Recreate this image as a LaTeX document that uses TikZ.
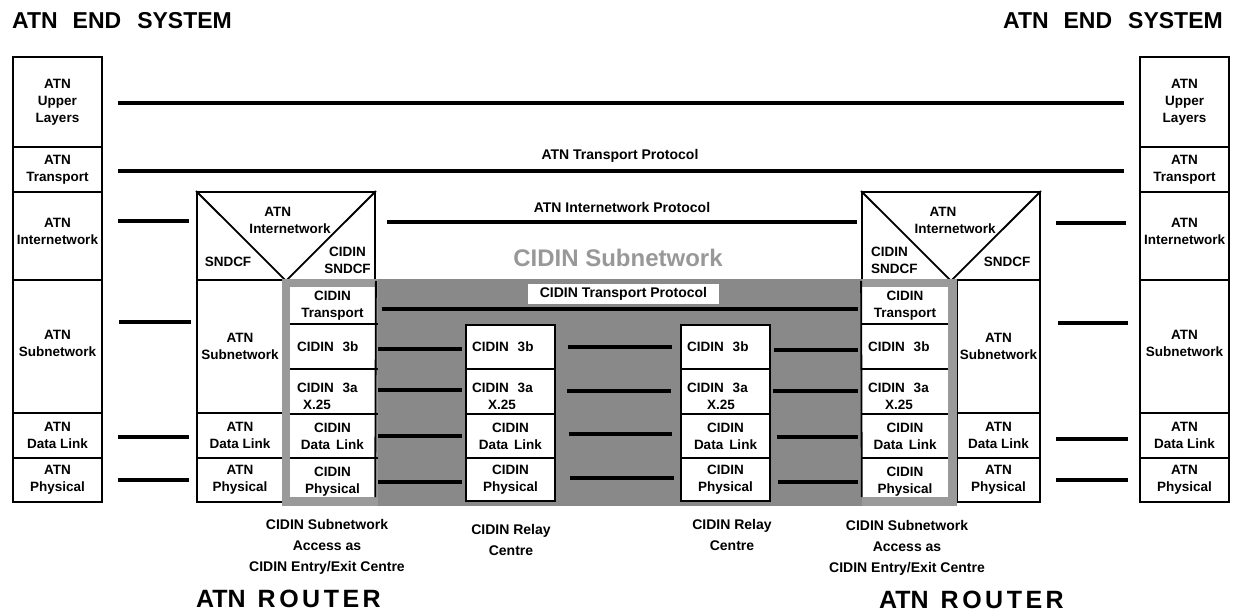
\documentclass[tikz,border=0pt]{standalone}
\usepackage{fontspec}
\setmainfont{Liberation Sans}
\definecolor{dgray}{RGB}{137,137,137}
\definecolor{lgray}{RGB}{154,154,154}
\definecolor{tgray}{RGB}{152,152,152}
\newcommand\boxfont{\fontsize{13.5}{17}\selectfont\bfseries}
\newcommand\protofont{\fontsize{14}{17}\selectfont\bfseries}
\newcommand\capfont{\fontsize{14}{21}\selectfont\bfseries}
\tikzset{
  bx/.style={draw=black, line width=1.8pt, fill=white, inner sep=0pt, align=center, font=\boxfont},
  wb/.style={draw=none, fill=white, inner sep=0pt, align=center, font=\boxfont},
  lb/.style={font=\boxfont, align=center, inner sep=0pt},
  dl/.style={line width=1.8pt, black},
  proto/.style={line width=4pt, black},
  pf/.style={font=\protofont, inner sep=0pt},
  cf/.style={font=\capfont, align=center, inner sep=0pt},
}
\begin{document}
\begin{tikzpicture}[x=1pt,y=-1pt]
\useasboundingbox (0,0) rectangle (1234,614);
% ---------- left end system
\node[bx, minimum width=89pt, minimum height=90pt] (eLU) at (57.5,102) {ATN\\Upper\\Layers};
\node[bx, minimum width=89pt, minimum height=45pt] (eLT) at (57.5,169.5) {ATN\\Transport};
\node[bx, minimum width=89pt, minimum height=88pt, label={[lb,yshift=5pt]center:ATN\\Internetwork}] (eLI) at (57.5,236) {};
\node[bx, minimum width=89pt, minimum height=133pt, label={[lb,yshift=3pt]center:ATN\\Subnetwork}] (eLS) at (57.5,346.5) {};
\node[bx, minimum width=89pt, minimum height=45pt] (eLD) at (57.5,435.5) {ATN\\Data Link};
\node[bx, minimum width=89pt, minimum height=44pt] (eLP) at (57.5,480) {ATN\\Physical};
% ---------- right end system
\node[bx, minimum width=89pt, minimum height=90pt] (eRU) at (1184.5,102) {ATN\\Upper\\Layers};
\node[bx, minimum width=89pt, minimum height=45pt] (eRT) at (1184.5,169.5) {ATN\\Transport};
\node[bx, minimum width=89pt, minimum height=88pt, label={[lb,yshift=5pt]center:ATN\\Internetwork}] (eRI) at (1184.5,236) {};
\node[bx, minimum width=89pt, minimum height=133pt, label={[lb,yshift=3pt]center:ATN\\Subnetwork}] (eRS) at (1184.5,346.5) {};
\node[bx, minimum width=89pt, minimum height=45pt] (eRD) at (1184.5,435.5) {ATN\\Data Link};
\node[bx, minimum width=89pt, minimum height=44pt] (eRP) at (1184.5,480) {ATN\\Physical};
% ---------- left router
\node[bx, minimum width=178pt, minimum height=88pt] (rLtop) at (286,236) {};
\node[bx, minimum width=86pt, minimum height=133pt] (rLS) at (240,346.5) {ATN\\Subnetwork};
\node[bx, minimum width=86pt, minimum height=45pt] (rLD) at (240,435.5) {ATN\\Data Link};
\node[bx, minimum width=86pt, minimum height=44pt] (rLP) at (240,480) {ATN\\Physical};
% ---------- right router
\node[bx, minimum width=178pt, minimum height=88pt] (rRtop) at (951,236) {};
\node[bx, minimum width=83pt, minimum height=133pt] (rRS) at (998.5,346.5) {ATN\\Subnetwork};
\node[bx, minimum width=83pt, minimum height=45pt] (rRD) at (998.5,435.5) {ATN\\Data Link};
\node[bx, minimum width=83pt, minimum height=44pt] (rRP) at (998.5,480) {ATN\\Physical};
% diagonals and router texts
\draw[dl] (rLtop.north west) -- (rLtop.south);
\draw[dl] (rLtop.north east) -- (rLtop.south);
\draw[dl] (rRtop.north west) -- (rRtop.south);
\draw[dl] (rRtop.north east) -- (rRtop.south);
\node[lb, align=left] (tLI) at (290,220) {\hspace*{15pt}ATN\\Internetwork};
\node[lb] (tLS) at (228,262) {SNDCF};
\node[lb] (tLC) at (347.5,260.5) {CIDIN\\SNDCF};
\node[lb, align=left] (tRI) at (955,220) {\hspace*{15pt}ATN\\Internetwork};
\node[lb, align=left, anchor=west] (tRC) at (871,260.5) {CIDIN\\SNDCF};
\node[lb] (tRS) at (1007,262) {SNDCF};
% ---------- CIDIN subnetwork grey area
\fill[dgray] (282,279) rectangle (957,506);
\fill[lgray] (282,279) rectangle (378,506);
\fill[lgray] (862,279) rectangle (957,506);
% left CIDIN column
\node[wb, minimum width=85pt, minimum height=37pt] (cLT) at (332.5,305.5) {CIDIN\\Transport};
\node[wb, minimum width=85pt, minimum height=45pt, text width=71pt, align=left] (cL3b) at (332.5,346.5) {CIDIN\hspace{9pt}3b};
\node[wb, minimum width=85pt, minimum height=45pt, label={[lb,text width=71pt,align=left,yshift=-5pt]center:CIDIN\hspace{9pt}3a\\\hspace*{6pt}X.25}] (cL3a) at (332.5,391.5) {};
\node[wb, minimum width=85pt, minimum height=44pt] (cLD) at (332.5,436) {CIDIN\\Data\hspace{6pt}Link};
\node[wb, minimum width=85pt, minimum height=39pt, label={[lb,yshift=-4pt]center:CIDIN\\Physical}] (cLP) at (332.5,477.5) {};
\foreach \n in {cLT,cL3b,cL3a,cLD} \draw[dl] (\n.south west) -- ([xshift=3pt]\n.south east);
\draw[dl] (rLtop.south east) -- (cLP.south east);
% right CIDIN column
\node[wb, minimum width=86pt, minimum height=37pt] (cRT) at (905,305.5) {CIDIN\\Transport};
\node[wb, minimum width=86pt, minimum height=45pt, text width=74pt, align=left] (cR3b) at (905,346.5) {CIDIN\hspace{9pt}3b};
\node[wb, minimum width=86pt, minimum height=45pt, label={[lb,text width=74pt,align=left,yshift=-5pt]center:CIDIN\hspace{9pt}3a\\\hspace*{17pt}X.25}] (cR3a) at (905,391.5) {};
\node[wb, minimum width=86pt, minimum height=44pt] (cRD) at (905,436) {CIDIN\\Data\hspace{6pt}Link};
\node[wb, minimum width=86pt, minimum height=39pt, label={[lb,yshift=-4pt]center:CIDIN\\Physical}] (cRP) at (905,477.5) {};
\foreach \n in {cRT,cR3b,cR3a,cRD} \draw[dl] (\n.south west) -- (\n.south east);
\draw[dl] (rRtop.south west) -- (cRP.south west);
% relay centres
\node[bx, minimum width=89pt, minimum height=44pt, text width=77pt, align=left] (r1b) at (510.5,347) {CIDIN\hspace{9pt}3b};
\node[bx, minimum width=89pt, minimum height=45pt, label={[lb,text width=77pt,align=left,yshift=-5pt]center:CIDIN\hspace{9pt}3a\\\hspace*{16pt}X.25}] (r1a) at (510.5,391.5) {};
\node[bx, minimum width=89pt, minimum height=44pt] (r1d) at (510.5,436) {CIDIN\\Data\hspace{6pt}Link};
\node[bx, minimum width=89pt, minimum height=43pt] (r1p) at (510.5,479.5) {CIDIN\\Physical};
\node[bx, minimum width=89pt, minimum height=44pt, text width=77pt, align=left] (r2b) at (725.5,347) {CIDIN\hspace{9pt}3b};
\node[bx, minimum width=89pt, minimum height=45pt, label={[lb,text width=77pt,align=left,yshift=-5pt]center:CIDIN\hspace{9pt}3a\\\hspace*{20pt}X.25}] (r2a) at (725.5,391.5) {};
\node[bx, minimum width=89pt, minimum height=44pt] (r2d) at (725.5,436) {CIDIN\\Data\hspace{6pt}Link};
\node[bx, minimum width=89pt, minimum height=43pt] (r2p) at (725.5,479.5) {CIDIN\\Physical};
% ---------- peer protocol lines (ATN)
\draw[proto] ([xshift=15pt,yshift=-1pt]eLU.east) -- ([xshift=-15pt,yshift=-1pt]eRU.west);
\draw[proto] ([xshift=15pt,yshift=-1.5pt]eLT.east) -- ([xshift=-15pt,yshift=-1.5pt]eRT.west);
\draw[proto] ([xshift=15pt,yshift=15pt]eLI.east) -- ([xshift=-7pt,yshift=15pt]rLtop.west);
\draw[proto] ([xshift=11pt,yshift=14pt]rLtop.east) -- ([xshift=-4pt,yshift=14pt]rRtop.west);
\draw[proto] ([xshift=15pt,yshift=13pt]rRtop.east) -- ([xshift=-13pt,yshift=13pt]eRI.west);
\draw[proto] ([xshift=16pt,yshift=24.5pt]eLS.east) -- ([xshift=-5pt,yshift=24.5pt]rLS.west);
\draw[proto] ([xshift=17pt,yshift=23.5pt]rRS.east) -- ([xshift=-11pt,yshift=23.5pt]eRS.west);
\draw[proto] ([xshift=15pt,yshift=-1.5pt]eLD.east) -- ([xshift=-7pt,yshift=-1.5pt]rLD.west);
\draw[proto] ([xshift=15pt,yshift=-3.5pt]rRD.east) -- ([xshift=-11pt,yshift=-3.5pt]eRD.west);
\draw[proto] ([xshift=15pt]eLP.east) -- ([xshift=-7pt]rLP.west);
\draw[proto] ([xshift=15pt]rRP.east) -- ([xshift=-11pt]eRP.west);
% ---------- CIDIN peer lines
\draw[proto] ([xshift=7pt,yshift=-3.5pt]cLT.east) -- ([xshift=-4pt,yshift=-3.5pt]cRT.west);
\draw[proto] ([xshift=3pt,yshift=-2.5pt]cL3b.east) -- ([xshift=-3pt,yshift=-2pt]r1b.west);
\draw[proto] ([xshift=12pt]r1b.east) -- ([xshift=-8pt]r2b.west);
\draw[proto] ([xshift=3pt,yshift=-3pt]r2b.east) -- ([xshift=-4pt,yshift=-3.5pt]cR3b.west);
\draw[proto] ([xshift=3pt,yshift=1.5pt]cL3a.east) -- ([xshift=-3pt,yshift=1.5pt]r1a.west);
\draw[proto] ([xshift=11pt,yshift=0.5pt]r1a.east) -- ([xshift=-9pt,yshift=0.5pt]r2a.west);
\draw[proto] ([xshift=2pt,yshift=0.5pt]r2a.east) -- ([xshift=-4pt,yshift=0.5pt]cR3a.west);
\draw[proto] ([xshift=3pt]cLD.east) -- ([xshift=-3pt]r1d.west);
\draw[proto] ([xshift=13pt,yshift=2pt]r1d.east) -- ([xshift=-8pt,yshift=2pt]r2d.west);
\draw[proto] ([xshift=6pt,yshift=-1pt]r2d.east) -- ([xshift=-4pt,yshift=-1pt]cRD.west);
\draw[proto] ([xshift=3pt,yshift=-4.5pt]cLP.east) -- ([xshift=-3pt,yshift=-2.5pt]r1p.west);
\draw[proto] ([xshift=14pt,yshift=1.5pt]r1p.east) -- ([xshift=-6pt,yshift=1.5pt]r2p.west);
\draw[proto] ([xshift=7pt,yshift=-2.5pt]r2p.east) -- ([xshift=-4pt,yshift=-4.5pt]cRP.west);
% ---------- protocol labels
\node[pf] (lTP) at (620,156) {ATN Transport Protocol};
\node[pf] (lIP) at (622,207) {ATN Internetwork Protocol};
\node[font=\fontsize{24}{24}\selectfont\bfseries, text=tgray, inner sep=0pt] (lCS) at (618,258) {CIDIN Subnetwork};
\node[pf, fill=white, minimum width=191pt, minimum height=20pt] (lCT) at (623.5,294) {CIDIN Transport Protocol};
% ---------- captions
\node[cf] (capL) at (327,547) {CIDIN Subnetwork\\Access as\\CIDIN Entry/Exit Centre};
\node[cf] (capR1) at (511,539.5) {CIDIN Relay\\Centre};
\node[cf] (capR2) at (732,534.5) {CIDIN Relay\\Centre};
\node[cf] (capR) at (907,548) {CIDIN Subnetwork\\Access as\\CIDIN Entry/Exit Centre};
% ---------- titles
\node[anchor=west, font=\fontsize{23}{23}\selectfont\bfseries, inner sep=0pt] (tiL) at (12,21) {ATN\hspace{15pt}END\hspace{16pt}SYSTEM};
\node[anchor=east, font=\fontsize{23}{23}\selectfont\bfseries, inner sep=0pt] (tiR) at (1223,21) {ATN\hspace{15pt}END\hspace{16pt}SYSTEM};
\node[font=\fontsize{25}{25}\selectfont\bfseries, inner sep=0pt] (roL) at (288.5,599) {ATN\hspace{12pt}R\hspace{3.5pt}O\hspace{3.5pt}U\hspace{3.5pt}T\hspace{3.5pt}E\hspace{3.5pt}R};
\node[font=\fontsize{25}{25}\selectfont\bfseries, inner sep=0pt] (roR) at (971.5,600) {ATN\hspace{12pt}R\hspace{3.5pt}O\hspace{3.5pt}U\hspace{3.5pt}T\hspace{3.5pt}E\hspace{3.5pt}R};
\end{tikzpicture}
\end{document}
